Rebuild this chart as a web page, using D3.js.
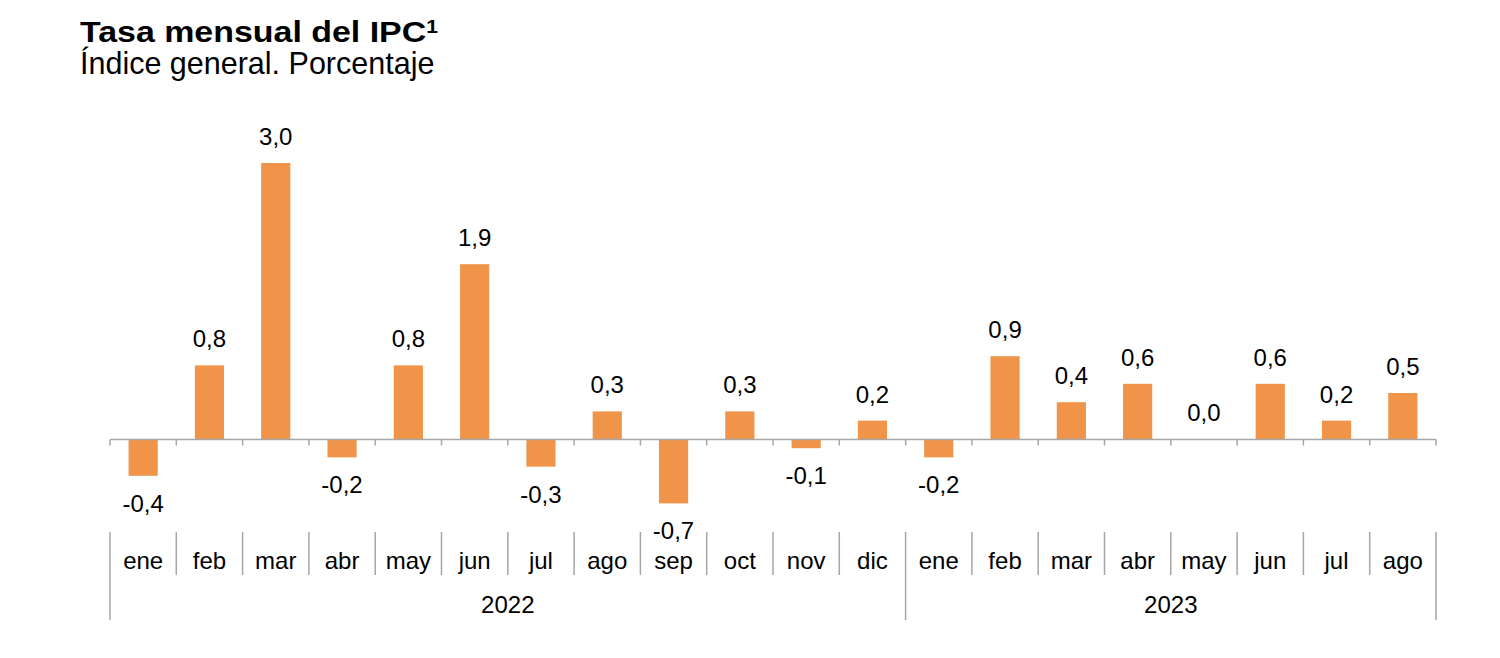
<!DOCTYPE html>
<html>
<head>
<meta charset="utf-8">
<script src="https://cdn.jsdelivr.net/npm/d3@7"></script>
<style>
  body { margin: 0; background: #fff; }
  text { font-family: "Liberation Sans", Arial, sans-serif; fill: #000; }
</style>
</head>
<body>
<svg id="chart" width="1500" height="658"></svg>
<script>
const months = ['ene','feb','mar','abr','may','jun','jul','ago','sep','oct','nov','dic',
                'ene','feb','mar','abr','may','jun','jul','ago']
const years = ['2022', '2023']
const yearCounts = [12, 8]
const values = [-0.4, 0.8, 3.0, -0.2, 0.8, 1.9, -0.3, 0.3, -0.7, 0.3, -0.1, 0.2,
                -0.2, 0.9, 0.4, 0.6, 0.0, 0.6, 0.2, 0.5]

const svg = d3.select('#chart')
const left = 110, right = 1436
const orange = '#F0944A', grey = '#a6a6a6'

// title (a bit wider than the font, like the original)
svg.append('text').attr('transform', 'translate(80,42) scale(1.17,1)')
  .attr('font-size', 29).attr('font-weight', 'bold')
  .text('Tasa mensual del IPC')
  .append('tspan').attr('font-size', 18).attr('dy', -9).text('1')
svg.append('text').attr('x', 80).attr('y', 74)
  .attr('font-size', 30.5).text('Índice general. Porcentaje')

const idx = d3.range(values.length)
const x = d3.scaleBand().domain(idx).range([left, right]).paddingInner(0.56).paddingOuter(0.28)
const y = d3.scaleLinear().domain([-0.7, 3.0]).range([503.4, 163])
const step = x.step()
const fmt = d => d3.format('.1f')(d).replace('.', ',').replace('\u2212', '-')

// bars
svg.selectAll('rect.bar')
  .data(values)
  .enter()
  .append('rect')
  .attr('class', 'bar')
  .attr('x', (d, i) => x(i))
  .attr('width', x.bandwidth())
  .attr('y', d => Math.min(y(d), y(0)))
  .attr('height', d => Math.abs(y(d) - y(0)))
  .attr('fill', orange)

// zero axis with ticks between categories
const base = Math.round(y(0)) + 0.5
svg.append('line').attr('x1', left).attr('x2', right).attr('y1', base).attr('y2', base)
  .attr('stroke', grey).attr('stroke-width', 1.5)
svg.selectAll('line.tick')
  .data(d3.range(values.length + 1))
  .enter()
  .append('line')
  .attr('x1', i => left + i * step).attr('x2', i => left + i * step)
  .attr('y1', base).attr('y2', base + 6)
  .attr('stroke', grey).attr('stroke-width', 1.5)

// value labels
svg.selectAll('text.val')
  .data(values)
  .enter()
  .append('text')
  .attr('x', (d, i) => x(i) + x.bandwidth() / 2)
  .attr('y', d => d < 0 ? y(d) + 36 : y(d) - 18)
  .attr('text-anchor', 'middle')
  .attr('font-size', 24)
  .text(fmt)

// month labels and separators
svg.selectAll('line.sep')
  .data(d3.range(values.length + 1))
  .enter()
  .append('line')
  .attr('x1', i => left + i * step).attr('x2', i => left + i * step)
  .attr('y1', 532).attr('y2', i => (i === 0 || i === 12 || i === values.length) ? 620 : 575)
  .attr('stroke', grey).attr('stroke-width', 1.5)
svg.selectAll('text.month')
  .data(months)
  .enter()
  .append('text')
  .attr('x', (d, i) => left + (i + 0.5) * step)
  .attr('y', 569)
  .attr('text-anchor', 'middle')
  .attr('font-size', 24)
  .text(d => d)

// year labels
let start = 0
years.forEach((yr, k) => {
  const mid = left + (start + yearCounts[k] / 2) * step
  svg.append('text').attr('x', mid).attr('y', 613)
    .attr('text-anchor', 'middle').attr('font-size', 24).text(yr)
  start += yearCounts[k]
})
</script>
</body>
</html>
